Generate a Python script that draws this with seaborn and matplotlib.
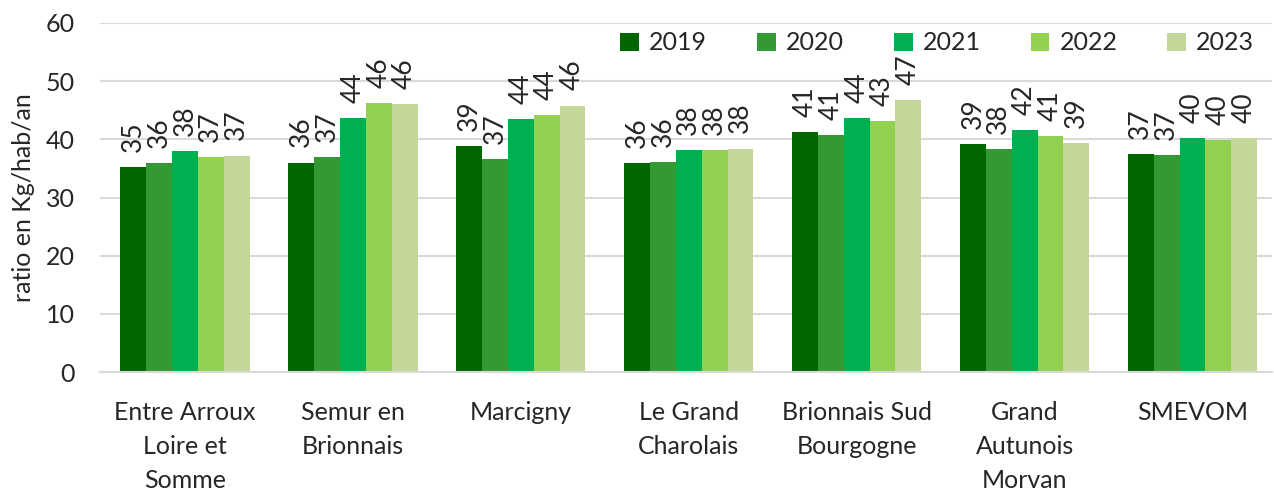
import numpy as np
import pandas as pd
import seaborn as sns
import matplotlib.pyplot as plt

# données
territoires = ["Entre Arroux\nLoire et\nSomme", "Semur en\nBrionnais", "Marcigny",
               "Le Grand\nCharolais", "Brionnais Sud\nBourgogne",
               "Grand\nAutunois\nMorvan", "SMEVOM"]
annees = ["2019", "2020", "2021", "2022", "2023"]
v2019 = [35.2, 36.0, 38.8, 35.9, 41.2, 39.2, 37.4]
v2020 = [35.9, 36.9, 36.6, 36.1, 40.7, 38.3, 37.3]
v2021 = [38.0, 43.7, 43.5, 38.2, 43.6, 41.6, 40.2]
v2022 = [37.0, 46.2, 44.1, 38.2, 43.1, 40.6, 39.9]
v2023 = [37.2, 46.1, 45.8, 38.4, 46.8, 39.4, 40.2]
couleurs = ["#006600", "#339933", "#00B050", "#92D050", "#C4D79B"]

valeurs = [v2019, v2020, v2021, v2022, v2023]
rows = []
for an, vals in zip(annees, valeurs):
    for t, v in zip(territoires, vals):
        rows.append({"Territoire": t, "Annee": an, "Ratio": v})
df = pd.DataFrame(rows)

sns.set_style("white")
plt.rcParams['font.family'] = ['Lato', 'DejaVu Sans']

fig, ax = plt.subplots(figsize=(12.74, 4.95), dpi=100)
fig.subplots_adjust(left=100/1274, right=1272/1274, top=1-23/495, bottom=1-372/495)

sns.barplot(data=df, x="Territoire", y="Ratio", hue="Annee", palette=couleurs,
            width=0.77, saturation=1, ax=ax, edgecolor="none")

# étiquettes de valeurs verticales
for cont in ax.containers:
    ax.bar_label(cont, fmt="%.0f", rotation=90, padding=11, fontsize=19)

ax.set_ylim(0, 60)
ax.set_yticks(range(0, 61, 10))
ax.yaxis.grid(True, color="#d9d9d9", linewidth=1.5)
ax.set_axisbelow(True)
for s in ["left", "right", "top"]:
    ax.spines[s].set_visible(False)
ax.spines["bottom"].set_color("#d9d9d9")
ax.spines["bottom"].set_linewidth(1.5)
ax.tick_params(axis="both", length=0, labelsize=18)
ax.tick_params(axis="x", pad=21)
ax.tick_params(axis="y", pad=18)
for lab in ax.get_xticklabels():
    lab.set_linespacing(1.58)
ax.set_xlabel("")
ax.set_ylabel("ratio en Kg/hab/an", fontsize=18, labelpad=8)
ax.set_xlim(-0.506, 6.473)

ax.legend(ncol=5, loc="center right", bbox_to_anchor=(1.004, 0.943), frameon=False,
          fontsize=18, handlelength=0.75, handleheight=0.75, columnspacing=2.0,
          handletextpad=0.4)

fig.savefig("out.png", dpi=100)
